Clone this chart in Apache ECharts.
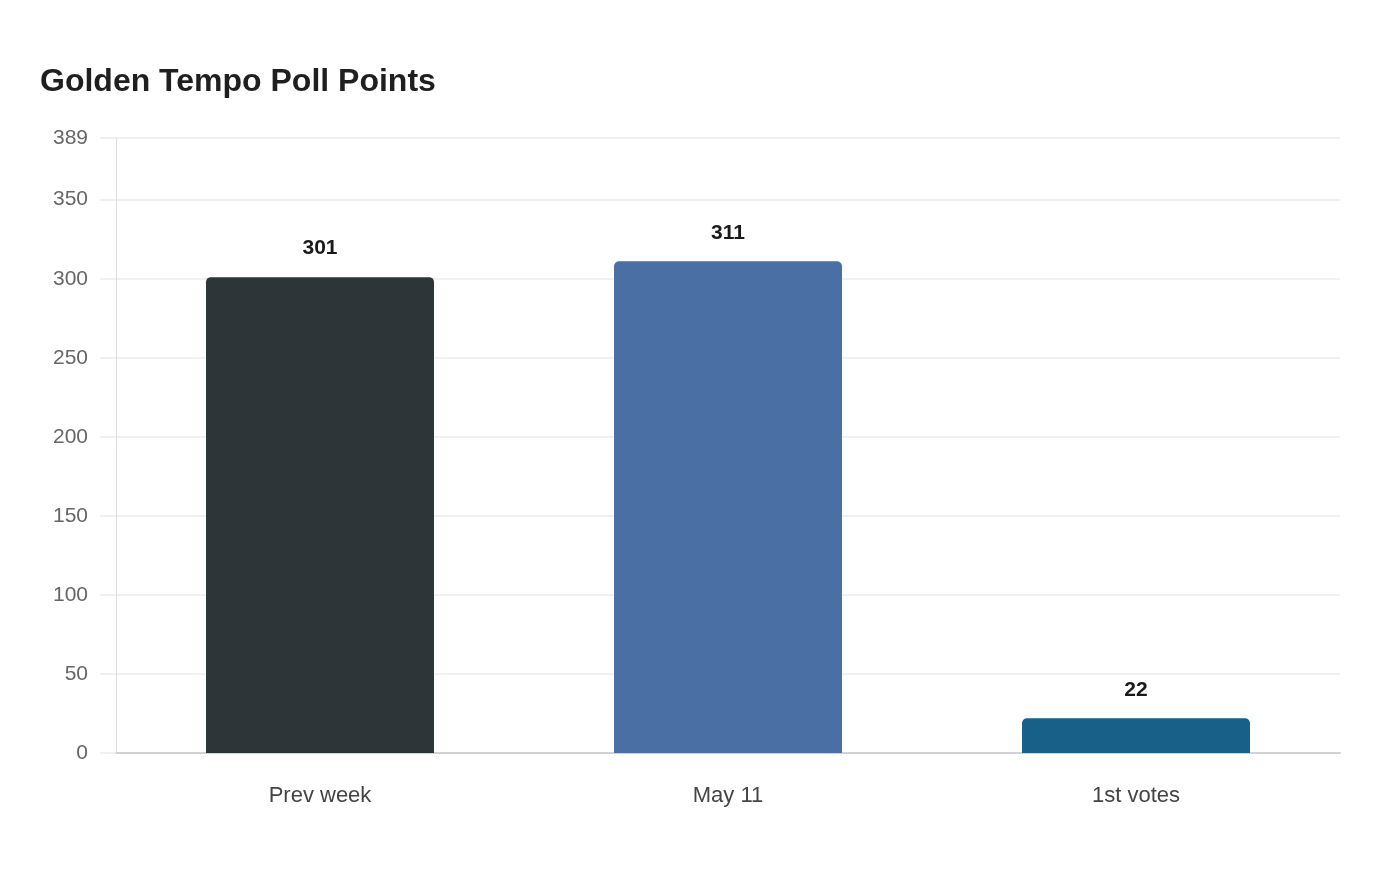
<!DOCTYPE html>
<html>
<head>
<meta charset="utf-8">
<script src="https://cdn.jsdelivr.net/npm/echarts@6/dist/echarts.min.js"></script>
<style>html,body{margin:0;padding:0;background:#fff;}#c{width:1400px;height:880px;}</style>
</head>
<body>
<div id="c"></div>
<script>
const categories = ["Prev week", "May 11", "1st votes"];
const values = [301, 311, 22];
const barColors = ["#2e3538", "#4a6fa5", "#186087"];
const yMax = 389;

const FONT = '"Liberation Sans", Arial, sans-serif';
const chart = echarts.init(document.getElementById('c'));
chart.setOption({
  animation: false,
  backgroundColor: '#ffffff',
  title: {
    text: 'Golden Tempo Poll Points',
    left: 35, top: 61,
    textStyle: {fontFamily: FONT, fontSize: 32, fontWeight: 'bold', color: '#1f1f1f'}
  },
  grid: {left: 116, right: 60, top: 138, bottom: 127, containLabel: false},
  xAxis: {
    type: 'category',
    data: categories,
    axisLine: {show: true, lineStyle: {color: '#cfd3d6', width: 2}},
    axisTick: {show: false},
    axisLabel: {margin: 32, fontFamily: FONT, fontSize: 22, color: '#444'}
  },
  yAxis: {
    type: 'value',
    min: 0, max: yMax, interval: 50,
    axisLine: {show: true, lineStyle: {color: '#dddddd', width: 1}},
    axisTick: {show: true, length: 16, lineStyle: {color: '#ececec', width: 1.5}},
    splitLine: {lineStyle: {color: '#ececec', width: 1.5}},
    axisLabel: {margin: 28, fontFamily: FONT, fontSize: 21, color: '#666'}
  },
  series: [{
    type: 'bar',
    barWidth: 228,
    data: values.map((v, i) => ({value: v, itemStyle: {color: barColors[i]}})),
    itemStyle: {borderRadius: [5, 5, 0, 0]},
    label: {
      show: true, position: 'top', distance: 18,
      fontFamily: FONT, fontSize: 21, fontWeight: 'bold', color: '#1a1a1a'
    }
  }]
});
</script>
</body>
</html>
